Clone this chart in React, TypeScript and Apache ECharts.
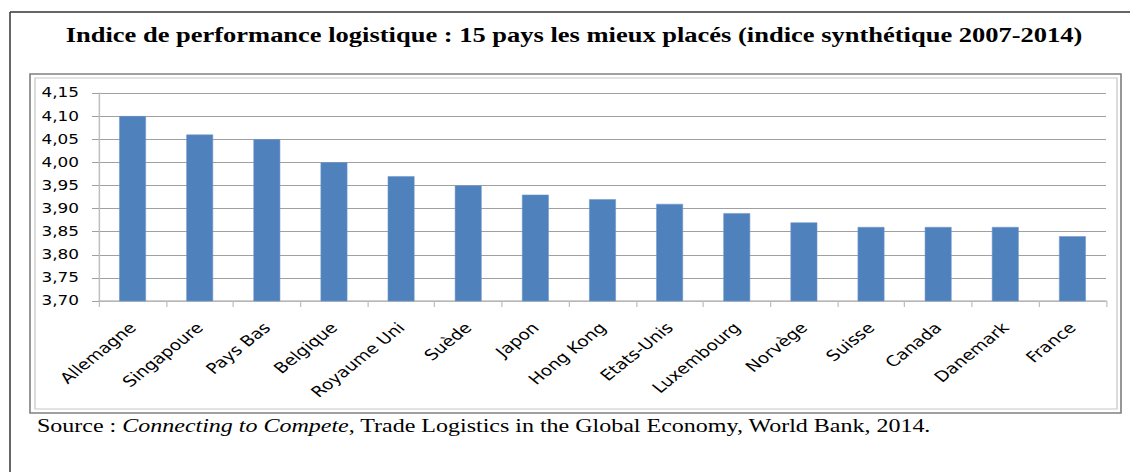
import React, { useEffect, useRef } from "react";
import * as echarts from "echarts";

const categories = [
  "Allemagne", "Singapoure", "Pays Bas", "Belgique", "Royaume Uni", "Suède", "Japon",
  "Hong Kong", "Etats-Unis", "Luxembourg", "Norvège", "Suisse", "Canada", "Danemark", "France",
];
const values = [4.10, 4.06, 4.05, 4.00, 3.97, 3.95, 3.93, 3.92, 3.91, 3.89, 3.87, 3.86, 3.86, 3.86, 3.84];
const yMin = 3.7;
const yMax = 4.15;
const yStep = 0.05;
const titleText = "Indice de performance logistique : 15 pays les mieux placés (indice synthétique 2007-2014)";

// The reference picture is stretched horizontally; render in unstretched space and scale with CSS.
const S = 1.25;
const W = 1130;
const H = 472;
const sx = (x: number) => x / S;

export default function App() {
  const ref = useRef<HTMLDivElement>(null);
  useEffect(() => {
    if (!ref.current) return;
    const chart = echarts.init(ref.current, null, { renderer: "svg" });
    chart.setOption({
      animation: false,
      backgroundColor: "#ffffff",
      grid: { left: sx(99), right: sx(24), top: 93, bottom: 171, containLabel: false },
      xAxis: {
        type: "category",
        data: categories,
        axisLine: { show: true, lineStyle: { color: "#bfbfbf", width: 1.5 } },
        axisTick: { show: true, length: 6, lineStyle: { color: "#bfbfbf" } },
        axisLabel: {
          rotate: 45,
          interval: 0,
          margin: 24,
          color: "#000",
          fontFamily: "DejaVu Sans",
          fontSize: 14.8,
        },
      },
      yAxis: {
        type: "value",
        min: yMin,
        max: yMax,
        interval: yStep,
        axisLine: { show: true, lineStyle: { color: "#bfbfbf", width: 1.2 } },
        axisTick: { show: true, length: sx(7), lineStyle: { color: "#a0a0a0" } },
        splitLine: { show: true, lineStyle: { color: "#a0a0a0", width: 1 } },
        axisLabel: {
          margin: sx(20),
          color: "#000",
          fontFamily: "DejaVu Sans",
          fontSize: 13.5,
          formatter: (v: number) => v.toFixed(2).replace(".", ","),
        },
      },
      series: [
        {
          type: "bar",
          data: values,
          barWidth: "40%",
          itemStyle: { color: "#4F81BD", borderColor: "#6f97c9", borderWidth: 0.5 },
        },
      ],
      graphic: [
        { type: "line", shape: { x1: sx(10), y1: 12, x2: sx(1130), y2: 12 }, style: { stroke: "#333", lineWidth: 1.5 } },
        { type: "line", shape: { x1: sx(10), y1: 12, x2: sx(10), y2: 472 }, style: { stroke: "#333", lineWidth: 1.2 } },
        { type: "rect", shape: { x: sx(30), y: 74, width: sx(1091), height: 339 }, style: { fill: "none", stroke: "#808080", lineWidth: 1.3 } },
        { type: "rect", shape: { x: sx(35), y: 78, width: sx(1082), height: 331 }, style: { fill: "none", stroke: "#c8c8c8", lineWidth: 1 } },
        {
          type: "text",
          x: sx(574),
          y: 35,
          style: {
            text: titleText,
            font: "bold 21.2px 'Liberation Serif'",
            fill: "#000",
            textAlign: "center",
            textVerticalAlign: "middle",
          },
        },
        {
          type: "text",
          x: sx(37),
          y: 426,
          style: {
            text: "{n|Source : }{i|Connecting to Compete}{n|, Trade Logistics in the Global Economy, World Bank, 2014.}",
            textVerticalAlign: "middle",
            rich: {
              n: { font: "19.2px 'Liberation Serif'", fill: "#000" },
              i: { font: "italic 19.2px 'Liberation Serif'", fill: "#000" },
            },
          },
        },
      ],
    });
    return () => chart.dispose();
  }, []);
  return (
    <div
      ref={ref}
      style={{
        position: "absolute",
        left: 0,
        top: 0,
        width: W / S,
        height: H,
        transform: `scaleX(${S})`,
        transformOrigin: "0 0",
      }}
    />
  );
}
